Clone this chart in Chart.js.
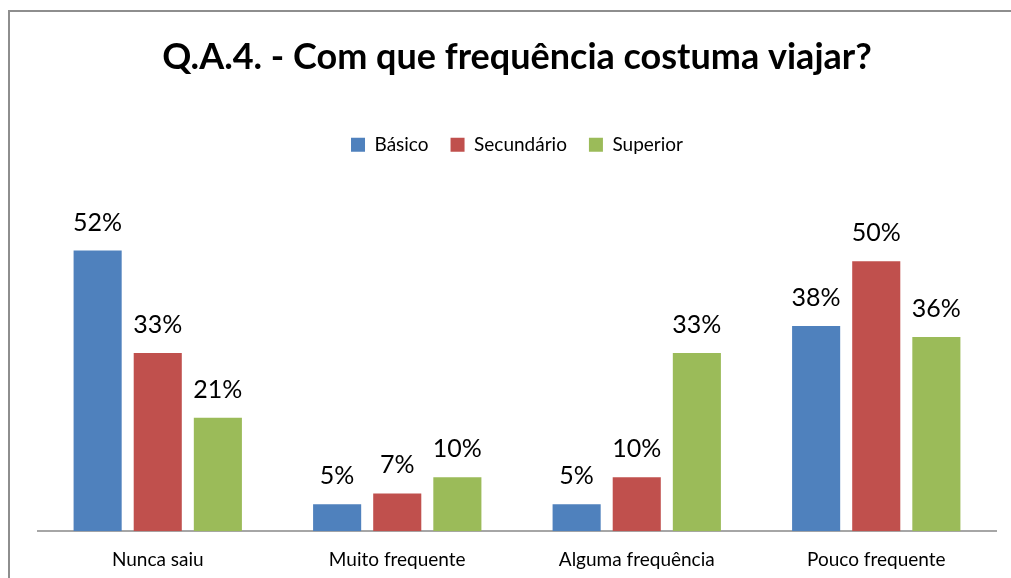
<!DOCTYPE html>
<html>
<head>
<meta charset="utf-8">
<script src="https://cdn.jsdelivr.net/npm/chart.js@4"></script>
<style>
  html, body { margin: 0; padding: 0; background: #fff; overflow: hidden; }
  #wrap { position: relative; width: 1011px; height: 578px; overflow: hidden; }
  #frame { position: absolute; left: 8px; top: 10px; width: 1100px; height: 700px;
           border-top: 2px solid #8e8e8e; border-left: 2px solid #8e8e8e; }
  canvas { position: absolute; left: 0; top: 0; }
</style>
</head>
<body>
<div id="wrap">
  <div id="frame"></div>
  <canvas id="graph" width="1011" height="578"></canvas>
</div>
<script>
// -------------------------
// DATA
// -------------------------
const title = "Q.A.4. - Com que frequência costuma viajar?";
const categories = ["Nunca saiu", "Muito frequente", "Alguma frequência", "Pouco frequente"];
const basico = [52, 5, 5, 38];
const secundario = [33, 7, 10, 50];
const superior = [21, 10, 33, 36];

const FONT = "Lato, 'Open Sans', sans-serif";

// value labels above each bar
const barLabels = {
  id: "barLabels",
  afterDatasetsDraw(chart) {
    const ctx = chart.ctx;
    ctx.save();
    ctx.font = "25px " + FONT;
    ctx.fillStyle = "#000";
    ctx.textAlign = "center";
    ctx.textBaseline = "alphabetic";
    chart.data.datasets.forEach((ds, i) => {
      chart.getDatasetMeta(i).data.forEach((bar, j) => {
        ctx.fillText(ds.data[j] + "%", bar.x, bar.y - 20);
      });
    });
    ctx.restore();
  }
};

// -------------------------
// INIT CHART
// -------------------------
const ctx = document.getElementById("graph").getContext("2d");
new Chart(ctx, {
  type: "bar",
  data: {
    labels: categories,
    datasets: [
      { label: "Básico", data: basico, backgroundColor: "#4F81BD" },
      { label: "Secundário", data: secundario, backgroundColor: "#C0504D" },
      { label: "Superior", data: superior, backgroundColor: "#9BBB59" }
    ]
  },
  options: {
    responsive: false,
    animation: false,
    barPercentage: 0.8,
    categoryPercentage: 0.753,
    layout: { padding: { left: 38, right: 15, top: 0, bottom: -10 } },
    plugins: {
      title: {
        display: true,
        text: title,
        color: "#000",
        font: { family: FONT, size: 36, weight: "bold" },
        padding: { top: 36, bottom: 34 }
      },
      legend: {
        display: true,
        position: "top",
        labels: {
          color: "#000",
          font: { family: FONT, size: 19 },
          boxWidth: 14,
          boxHeight: 14,
          padding: 22
        }
      },
      tooltip: { enabled: false }
    },
    scales: {
      x: {
        grid: { display: false, drawTicks: false },
        border: { display: true, color: "#a6a6a6", width: 2 },
        ticks: { color: "#000", font: { family: FONT, size: 19 }, padding: 17 }
      },
      y: {
        display: false,
        min: 0,
        max: 68
      }
    }
  },
  plugins: [barLabels]
});
</script>
</body>
</html>
